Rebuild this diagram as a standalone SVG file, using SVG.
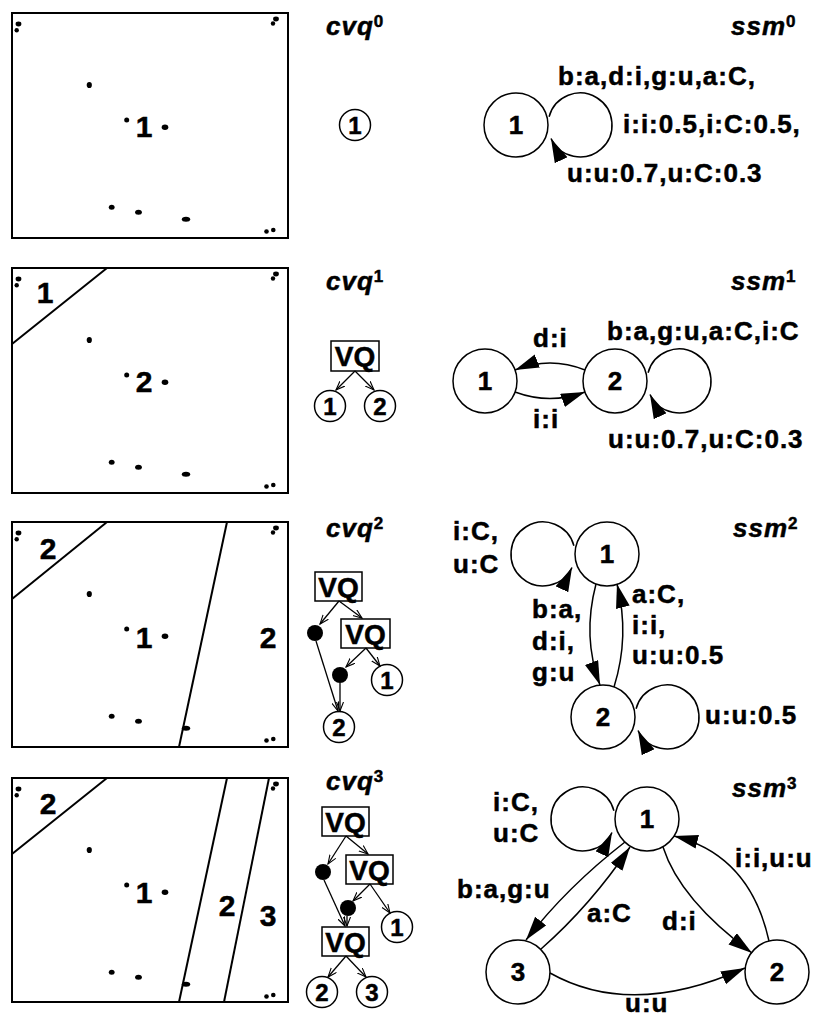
<svg xmlns="http://www.w3.org/2000/svg" width="820" height="1018" viewBox="0 0 820 1018">
<style>
.lb{font-family:"Liberation Sans",Arial,sans-serif;font-weight:700;font-size:26px;letter-spacing:1px;fill:#000;stroke:#000;stroke-width:0.5}
.ttl{font-style:italic}
.sup{font-style:normal;font-size:17px;letter-spacing:0}
.num{text-anchor:middle;letter-spacing:0}
.pn{font-size:30px}
.sm{font-size:24px}
.vq{font-size:28px;letter-spacing:0;text-anchor:middle}
.frame{fill:none;stroke:#000;stroke-width:2}
.cut{fill:none;stroke:#000;stroke-width:2}
.st{fill:#fff;stroke:#000;stroke-width:1.5}
.box{fill:#fff;stroke:#000;stroke-width:1.5}
.te{fill:none;stroke:#000;stroke-width:1.3;marker-end:url(#open)}
.se{fill:none;stroke:#000;stroke-width:1.5;marker-end:url(#solid)}
</style>
<defs>
<marker id="open" markerUnits="userSpaceOnUse" markerWidth="12" markerHeight="10" refX="9" refY="4" orient="auto">
<path d="M0,0.5 L9,4 L0,7.5" fill="none" stroke="#000" stroke-width="1.1"/>
</marker>
<marker id="solid" markerUnits="userSpaceOnUse" markerWidth="26" markerHeight="16" refX="24" refY="7" orient="auto">
<path d="M0,0 L24,7 L0,14 z" fill="#000"/>
</marker>
<g id="dots" fill="#000">
<ellipse cx="18.5" cy="24" rx="2.9" ry="2.4"/>
<circle cx="16.7" cy="30.2" r="2.2"/>
<ellipse cx="276" cy="19" rx="2.9" ry="2.4"/>
<circle cx="273" cy="23.5" r="2.2"/>
<ellipse cx="89.3" cy="85" rx="2.6" ry="3.1"/>
<circle cx="126.7" cy="120" r="2.5"/>
<ellipse cx="165" cy="127.3" rx="3.3" ry="2.7"/>
<ellipse cx="111.7" cy="207.3" rx="2.9" ry="2.5"/>
<ellipse cx="138.5" cy="212.3" rx="3.4" ry="2.5"/>
<ellipse cx="186" cy="219.3" rx="4.2" ry="2.5"/>
<circle cx="266.5" cy="231.5" r="2.3"/>
<circle cx="273.3" cy="230" r="2.3"/>
</g>
</defs>
<rect width="820" height="1018" fill="#fff"/>

<!-- Row 1 -->
<g id="panel0">
<rect class="frame" x="12" y="13" width="276" height="225"/>
<use href="#dots"/>
<text class="lb num pn" x="144" y="137">1</text>
</g>
<g id="cvq0">
<text class="lb ttl" x="326" y="35">cvq<tspan class="sup" dy="-8">0</tspan></text>
<g id="cvq0-n1"><circle class="st" cx="355" cy="125" r="15.5"/><text class="lb num sm" x="355" y="134">1</text></g>
</g>
<g id="ssm0">
<text class="lb ttl" x="731" y="35">ssm<tspan class="sup" dy="-8">0</tspan></text>
<g id="ssm0-n1"><circle class="st" cx="516" cy="125" r="32"/><text class="lb num" x="516" y="134">1</text></g>
<text class="lb" x="558" y="85">b:a,d:i,g:u,a:C,</text>
<text class="lb" x="623" y="133">i:i:0.5,i:C:0.5,</text>
<text class="lb" x="567" y="182">u:u:0.7,u:C:0.3</text>
</g>

<!-- Row 2 -->
<g id="panel1">
<rect class="frame" x="12" y="268" width="276" height="225"/>
<use href="#dots" transform="translate(0,255)"/>
<line class="cut" x1="107" y1="268" x2="12" y2="344"/>
<text class="lb num pn" x="45" y="303">1</text>
<text class="lb num pn" x="144" y="392">2</text>
</g>
<g id="cvq1">
<text class="lb ttl" x="326" y="290">cvq<tspan class="sup" dy="-8">1</tspan></text>
<g id="cvq1-vq"><rect class="box" x="331" y="341" width="48" height="30"/><text class="lb vq" x="355" y="366">VQ</text></g>
<g id="cvq1-n1"><circle class="st" cx="330" cy="406" r="15.5"/><text class="lb num sm" x="330" y="415">1</text></g>
<g id="cvq1-n2"><circle class="st" cx="380" cy="406" r="15.5"/><text class="lb num sm" x="380" y="415">2</text></g>
</g>
<g id="ssm1">
<text class="lb ttl" x="731" y="290">ssm<tspan class="sup" dy="-8">1</tspan></text>
<g id="ssm1-n1"><circle class="st" cx="485" cy="381" r="32"/><text class="lb num" x="485" y="390">1</text></g>
<g id="ssm1-n2"><circle class="st" cx="615" cy="381" r="32"/><text class="lb num" x="615" y="390">2</text></g>
<text class="lb" x="533" y="347">d:i</text>
<text class="lb" x="533" y="428">i:i</text>
<text class="lb" x="607" y="340">b:a,g:u,a:C,i:C</text>
<text class="lb" x="608" y="448">u:u:0.7,u:C:0.3</text>
</g>

<!-- Row 3 -->
<g id="panel2">
<rect class="frame" x="12" y="522" width="276" height="225"/>
<use href="#dots" transform="translate(0,509)"/>
<line class="cut" x1="107" y1="522" x2="12" y2="599"/>
<line class="cut" x1="227" y1="522" x2="179" y2="747"/>
<text class="lb num pn" x="48" y="559">2</text>
<text class="lb num pn" x="144" y="648">1</text>
<text class="lb num pn" x="268" y="648">2</text>
</g>
<g id="cvq2">
<text class="lb ttl" x="326" y="537">cvq<tspan class="sup" dy="-8">2</tspan></text>
<g id="cvq2-vq1"><rect class="box" x="315" y="572" width="47" height="29"/><text class="lb vq" x="338.5" y="596.5">VQ</text></g>
<g id="cvq2-vq2"><rect class="box" x="341" y="619" width="49" height="29"/><text class="lb vq" x="365.5" y="643.5">VQ</text></g>
<g id="cvq2-d1"><circle cx="315" cy="633" r="8" fill="#000"/></g>
<g id="cvq2-d2"><circle cx="340" cy="675" r="8" fill="#000"/></g>
<g id="cvq2-n1"><circle class="st" cx="387" cy="680" r="15.5"/><text class="lb num sm" x="387" y="689">1</text></g>
<g id="cvq2-n2"><circle class="st" cx="339" cy="727" r="15.5"/><text class="lb num sm" x="339" y="736">2</text></g>
</g>
<g id="ssm2">
<text class="lb ttl" x="733" y="537">ssm<tspan class="sup" dy="-8">2</tspan></text>
<g id="ssm2-n1"><circle class="st" cx="607" cy="554" r="32"/><text class="lb num" x="607" y="563">1</text></g>
<g id="ssm2-n2"><circle class="st" cx="603" cy="717" r="32"/><text class="lb num" x="603" y="726">2</text></g>
<text class="lb" x="453" y="540">i:C,</text>
<text class="lb" x="453" y="573">u:C</text>
<text class="lb" x="532" y="618">b:a,</text>
<text class="lb" x="532" y="650">d:i,</text>
<text class="lb" x="532" y="681">g:u</text>
<text class="lb" x="632" y="603">a:C,</text>
<text class="lb" x="632" y="634">i:i,</text>
<text class="lb" x="632" y="664">u:u:0.5</text>
<text class="lb" x="705" y="724">u:u:0.5</text>
</g>

<!-- Row 4 -->
<g id="panel3">
<rect class="frame" x="12" y="778" width="276" height="224"/>
<use href="#dots" transform="translate(0,765)"/>
<line class="cut" x1="107" y1="778" x2="12" y2="854"/>
<line class="cut" x1="227" y1="778" x2="179" y2="1002"/>
<line class="cut" x1="269" y1="778" x2="224" y2="1002"/>
<text class="lb num pn" x="48" y="814">2</text>
<text class="lb num pn" x="144" y="903">1</text>
<text class="lb num pn" x="227" y="916">2</text>
<text class="lb num pn" x="268" y="926">3</text>
</g>
<g id="cvq3">
<text class="lb ttl" x="326" y="790">cvq<tspan class="sup" dy="-8">3</tspan></text>
<g id="cvq3-vq1"><rect class="box" x="322" y="807" width="47" height="29"/><text class="lb vq" x="345.5" y="831.5">VQ</text></g>
<g id="cvq3-vq2"><rect class="box" x="346" y="855" width="47" height="29"/><text class="lb vq" x="369.5" y="879.5">VQ</text></g>
<g id="cvq3-vq3"><rect class="box" x="322" y="927" width="47" height="29"/><text class="lb vq" x="345.5" y="951.5">VQ</text></g>
<g id="cvq3-d1"><circle cx="323" cy="872" r="8" fill="#000"/></g>
<g id="cvq3-d2"><circle cx="348" cy="908" r="8" fill="#000"/></g>
<g id="cvq3-n1"><circle class="st" cx="397" cy="927" r="15.5"/><text class="lb num sm" x="397" y="936">1</text></g>
<g id="cvq3-n2"><circle class="st" cx="322" cy="992" r="15.5"/><text class="lb num sm" x="322" y="1001">2</text></g>
<g id="cvq3-n3"><circle class="st" cx="372" cy="992" r="15.5"/><text class="lb num sm" x="372" y="1001">3</text></g>
</g>
<g id="ssm3">
<text class="lb ttl" x="732" y="797">ssm<tspan class="sup" dy="-8">3</tspan></text>
<g id="ssm3-n1"><circle class="st" cx="647" cy="819" r="32"/><text class="lb num" x="647" y="828">1</text></g>
<g id="ssm3-n2"><circle class="st" cx="777" cy="972" r="32"/><text class="lb num" x="777" y="981">2</text></g>
<g id="ssm3-n3"><circle class="st" cx="518" cy="972" r="32"/><text class="lb num" x="518" y="981">3</text></g>
<text class="lb" x="493" y="811">i:C,</text>
<text class="lb" x="493" y="842">u:C</text>
<text class="lb" x="457" y="898">b:a,g:u</text>
<text class="lb" x="587" y="922">a:C</text>
<text class="lb" x="662" y="930">d:i</text>
<text class="lb" x="735" y="867">i:i,u:u</text>
<text class="lb" x="625" y="1012">u:u</text>
</g>

<!-- Connectors -->
<g id="connectors">
<!-- cvq1 -->
<line class="te" x1="355" y1="371" x2="336" y2="390"/>
<line class="te" x1="355" y1="371" x2="374" y2="390"/>
<!-- cvq2 -->
<line class="te" x1="339" y1="601" x2="320" y2="624"/>
<line class="te" x1="339" y1="601" x2="362" y2="618"/>
<line class="te" x1="316" y1="641" x2="338" y2="711"/>
<line class="te" x1="366" y1="648" x2="346" y2="667"/>
<line class="te" x1="366" y1="648" x2="380" y2="666"/>
<line class="te" x1="340" y1="683" x2="340" y2="711"/>
<!-- cvq3 -->
<line class="te" x1="346" y1="836" x2="328" y2="864"/>
<line class="te" x1="346" y1="836" x2="368" y2="854"/>
<line class="te" x1="324" y1="880" x2="345" y2="926"/>
<line class="te" x1="370" y1="884" x2="353" y2="901"/>
<line class="te" x1="370" y1="884" x2="390" y2="913"/>
<line class="te" x1="347" y1="916" x2="347" y2="926"/>
<line class="te" x1="346" y1="956" x2="328" y2="977"/>
<line class="te" x1="346" y1="956" x2="366" y2="977"/>
<!-- ssm0 -->
<path class="se" d="M549.1,116.7 A32,32 0 1 1 551,138.5"/>
<!-- ssm1 -->
<path class="se" d="M585,370 Q550,356 515,370"/>
<path class="se" d="M515,392 Q550,405 585,392"/>
<path class="se" d="M648.1,372.7 A32,32 0 1 1 650,394.5"/>
<!-- ssm2 -->
<path class="se" d="M573.9,545.7 A32,32 0 1 0 572,567.5"/>
<path class="se" d="M596,584 Q582,637 600,685"/>
<path class="se" d="M614,687 Q630,636 617,584"/>
<path class="se" d="M636.1,708.7 A32,32 0 1 1 638,730.5"/>
<!-- ssm3 -->
<path class="se" d="M613.9,810.7 A32,32 0 1 0 612,832.5"/>
<path class="se" d="M625,842 Q567,887 526,940"/>
<path class="se" d="M541,949 Q591,905 630,847"/>
<path class="se" d="M663,847 Q680,900 752,953"/>
<path class="se" d="M769,941 Q750,855 674,836"/>
<path class="se" d="M550,973 Q632,1019 745,968"/>
</g>
</svg>
